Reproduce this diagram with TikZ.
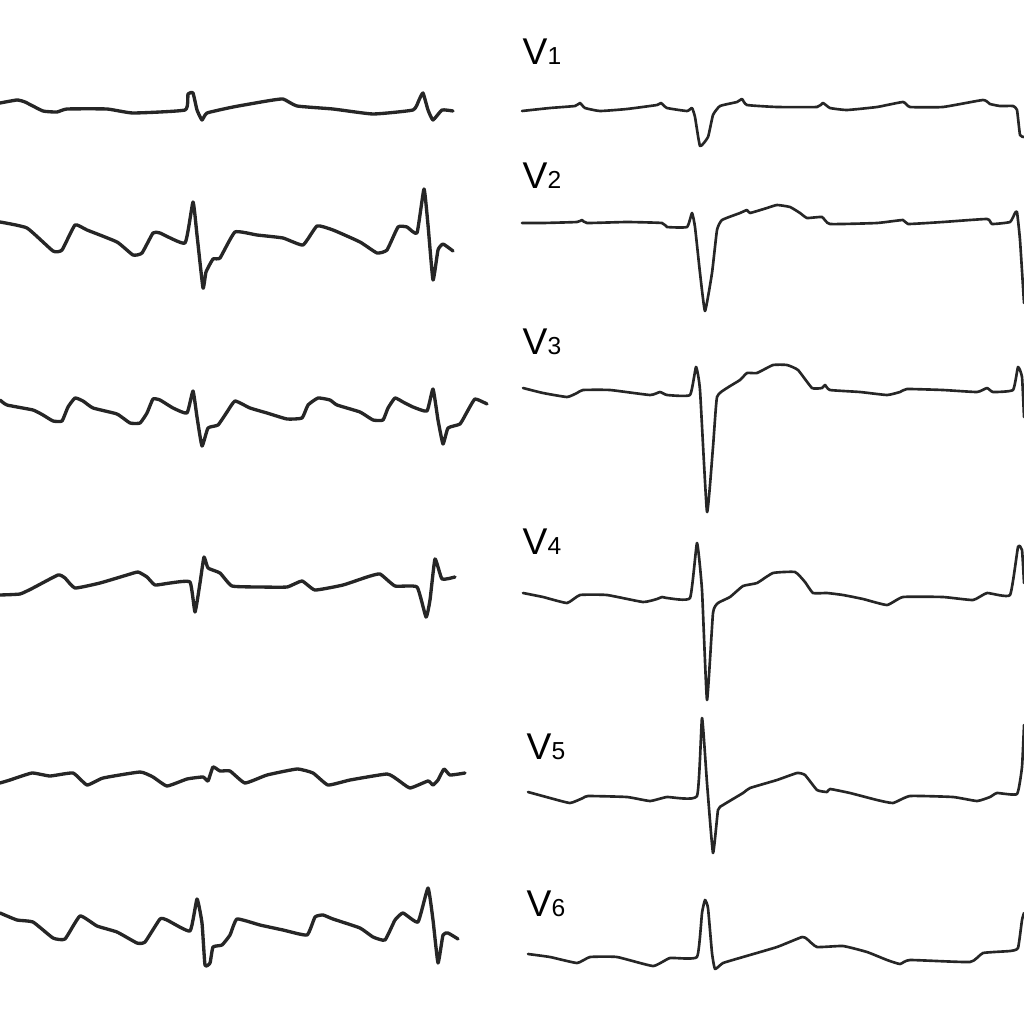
\documentclass[tikz,border=0pt]{standalone}
\usepackage{fontspec}
\setmainfont{Liberation Sans}
\tikzset{
  ecg/.style = {line width=0.75pt, line join=round, line cap=round, black!85},
  ecg thick/.style = {ecg, line width=0.95pt},
  lead/.style = {anchor=base west, inner sep=0pt, font=\fontsize{10.6pt}{11pt}\selectfont},
}
\newcommand{\leadname}[1]{V{\fontsize{7pt}{8pt}\selectfont #1}}
\begin{document}
\begin{tikzpicture}[x=0.1mm, y=-0.1mm]
\useasboundingbox (0,0) rectangle (1024,1024);

% left column
\draw [ecg thick] plot [smooth, tension=0.25] coordinates {(0,103) (17,100) (25,102) (43,111) (57,112) (67,109) (107,109) (133,113) (185,110) (188,94) (193,93) (197,110) (202,120) (207,113) (233,107) (267,101) (283,99) (297,106) (333,109) (373,114) (413,110) (419,100) (423,93) (428,110) (433,120) (442,110) (453,111)};
\draw [ecg thick] plot [smooth, tension=0.25] coordinates {(0,222) (27,228) (53,251) (62,250) (75,225) (87,230) (117,242) (133,255) (142,253) (153,233) (160,233) (185,243) (193,202) (197,235) (203,288) (206,272) (213,259) (220,258) (235,232) (257,235) (283,238) (303,245) (317,226) (333,230) (360,242) (377,253) (387,250) (398,227) (407,227) (417,233) (424,189) (428,225) (433,280) (438,250) (443,244) (453,251)};
\draw [ecg thick] plot [smooth, tension=0.25] coordinates {(0,400) (7,405) (33,410) (43,415) (53,421) (62,421) (68,407) (75,398) (83,401) (93,408) (117,414) (130,423) (140,423) (147,413) (153,399) (160,400) (173,408) (187,413) (193,391) (197,417) (202,446) (208,428) (218,425) (227,412) (235,401) (250,408) (267,413) (287,419) (302,418) (308,405) (318,398) (330,400) (337,405) (360,412) (373,420) (383,420) (388,408) (395,398) (403,402) (413,407) (427,411) (433,389) (438,420) (443,444) (448,428) (460,424) (467,412) (475,399) (487,404)};
\draw [ecg thick] plot [smooth, tension=0.25] coordinates {(0,595) (20,594) (33,588) (58,575) (65,578) (75,588) (100,583) (127,575) (138,572) (147,577) (155,585) (170,583) (190,582) (195,612) (200,583) (204,557) (208,568) (220,573) (232,586) (260,587) (287,587) (302,581) (315,590) (343,585) (367,577) (380,574) (395,586) (417,587) (426,617) (430,600) (435,559) (442,579) (455,577)};
\draw [ecg thick] plot [smooth, tension=0.25] coordinates {(0,783) (10,780) (32,773) (50,776) (73,773) (87,785) (103,778) (140,772) (153,777) (167,786) (187,779) (203,777) (208,781) (213,767) (220,771) (230,771) (245,783) (267,775) (297,769) (313,773) (328,785) (350,780) (387,774) (398,780) (410,788) (428,781) (433,785) (438,780) (444,769) (450,775) (465,773)};
\draw [ecg thick] plot [smooth, tension=0.25] coordinates {(0,913) (17,920) (33,922) (53,938) (65,939) (80,916) (97,926) (117,932) (137,943) (145,942) (160,919) (167,920) (190,931) (197,899) (202,923) (205,965) (210,963) (213,947) (222,945) (230,935) (237,919) (260,925) (283,930) (307,935) (315,917) (323,915) (333,919) (360,928) (373,937) (385,940) (395,920) (403,913) (418,922) (428,888) (433,920) (438,963) (443,935) (448,933) (458,939)};

% right column: chest leads
\node [lead] (v1) at (522,65) {\leadname{1}};
\node [lead] (v2) at (522,189) {\leadname{2}};
\node [lead] (v3) at (522,354) {\leadname{3}};
\node [lead] (v4) at (522,554) {\leadname{4}};
\node [lead] (v5) at (526,759) {\leadname{5}};
\node [lead] (v6) at (526,916) {\leadname{6}};

\draw [ecg] plot [smooth, tension=0.25] coordinates {(522,111) (550,108) (575,106) (580,103) (585,108) (600,111) (627,109) (657,105) (661,103) (667,108) (687,111) (692,108) (695,117) (700,146) (708,137) (713,115) (720,106) (737,102) (742,99) (747,105) (777,107) (817,107) (823,103) (830,108) (847,110) (877,107) (903,102) (910,107) (943,107) (983,100) (990,104) (1000,106) (1013,106) (1017,110) (1020,135) (1024,137)};
\draw [ecg] plot [smooth, tension=0.25] coordinates {(522,223) (543,223) (577,222) (582,220) (587,223) (627,222) (662,223) (667,227) (687,227) (692,213) (695,227) (700,273) (705,311) (712,273) (717,230) (722,220) (740,213) (747,210) (750,213) (767,208) (777,205) (790,207) (800,213) (807,218) (822,217) (830,224) (877,223) (903,220) (908,224) (943,222) (987,219) (992,224) (1010,222) (1015,213) (1017,212) (1020,240) (1024,303)};
\draw [ecg] plot [smooth, tension=0.25] coordinates {(523,388) (543,393) (567,397) (577,393) (583,390) (610,390) (650,395) (660,392) (667,395) (690,395) (696,367) (700,390) (707,512) (713,447) (717,397) (727,388) (740,380) (747,373) (757,373) (773,365) (787,365) (798,370) (812,388) (822,388) (825,385) (830,390) (860,392) (887,395) (900,392) (907,389) (943,390) (977,392) (987,388) (993,392) (1013,390) (1018,367) (1022,377) (1024,417)};
\draw [ecg] plot [smooth, tension=0.25] coordinates {(523,593) (543,597) (567,603) (580,595) (607,595) (643,602) (657,599) (662,597) (667,598) (690,598) (697,543) (702,590) (707,700) (713,613) (718,603) (730,597) (743,586) (757,583) (773,573) (795,572) (805,582) (813,593) (827,593) (843,595) (863,599) (887,605) (903,597) (943,597) (973,600) (987,593) (1010,595) (1018,547) (1022,550) (1024,583)};
\draw [ecg] plot [smooth, tension=0.25] coordinates {(528,792) (550,798) (570,803) (583,798) (588,796) (627,797) (650,801) (667,797) (697,796) (702,718) (707,783) (713,853) (718,810) (723,805) (743,793) (750,788) (777,780) (797,773) (805,775) (817,790) (827,792) (830,789) (850,793) (877,800) (893,803) (910,796) (953,797) (977,801) (990,797) (997,793) (1017,794) (1022,767) (1024,725)};
\draw [ecg] plot [smooth, tension=0.25] coordinates {(528,954) (550,957) (577,963) (590,957) (617,957) (653,966) (670,958) (697,957) (702,913) (705,900) (708,908) (712,953) (715,969) (723,963) (743,957) (777,947) (802,937) (807,939) (817,947) (843,946) (867,952) (887,960) (900,964) (910,960) (970,962) (983,953) (1010,951) (1018,948) (1022,920) (1024,913)};
\end{tikzpicture}
\end{document}
